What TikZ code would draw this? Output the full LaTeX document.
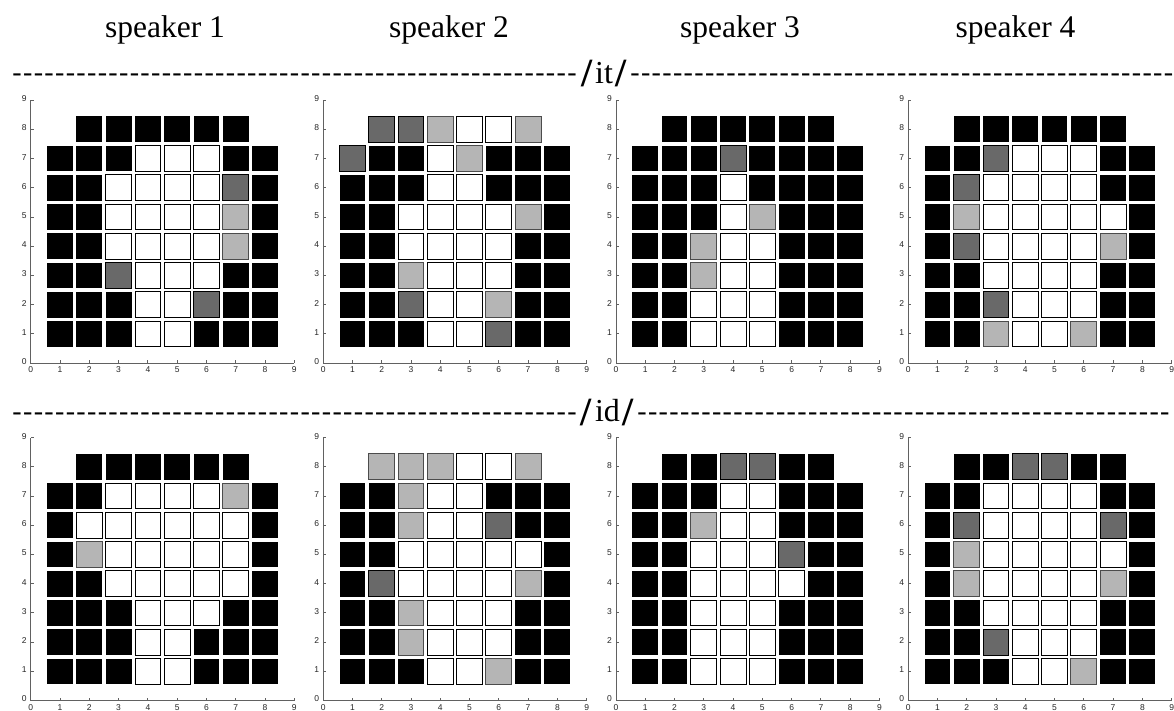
\documentclass[tikz,border=0pt]{standalone}
\usepackage{fontspec}
\newfontfamily\tnr{Liberation Serif}
\newfontfamily\hlv{Liberation Sans}
\definecolor{axisgray}{gray}{0.38}
\definecolor{midgray}{gray}{0.41}
\definecolor{lightgray}{gray}{0.71}
\newcommand{\hy}{\hbox to 10.67pt{\hss\fontsize{28}{28}\selectfont-\hss}}
\newcommand{\hten}{\hy\hy\hy\hy\hy\hy\hy\hy\hy\hy}
\tikzset{
  x=1pt,y=-1pt,
  cellk/.style={fill=black},
  cellw/.style={fill=white,draw=black,line width=0.9pt},
  celld/.style={fill=midgray,draw=black,line width=0.9pt},
  celll/.style={fill=lightgray,draw=black!70,line width=0.9pt},
  celln/.style={},
  axisline/.style={draw=axisgray,line width=0.9pt},
  ticklabel/.style={font=\hlv\fontsize{8.5}{9}\selectfont,text=black!85,inner sep=0pt},
  title/.style={font=\tnr\fontsize{31.5}{34}\selectfont,anchor=base,inner sep=0pt},
  dashes/.style={font=\tnr\fontsize{32}{34}\selectfont,anchor=base,inner sep=0pt},
}
\newcommand{\slsh}{\raisebox{-3.5pt}{\bfseries\fontsize{40}{40}\selectfont/}}
\newcommand{\panel}[3]{%
  \draw[axisline] (#1,#2-262.5) -- (#1,#2) -- (#1+263.5,#2);
  \foreach \k in {0,...,9}{
    \pgfmathsetmacro{\tx}{#1+29.27*\k}
    \pgfmathsetmacro{\ty}{#2-29.2*\k}
    \draw[axisline] (\tx,#2) -- (\tx,#2-3);
    \draw[axisline] (#1,\ty) -- (#1+3,\ty);
    \node[ticklabel] at (\tx,#2+7) {\k};
    \node[ticklabel] at (#1-6.5,\ty-1.5) {\k};
  }
  \foreach \rowcells [count=\r] in {#3}{
    \foreach \c [count=\i] in \rowcells {
      \pgfmathsetmacro{\cx}{#1+29.27*\i}
      \pgfmathsetmacro{\cy}{#2-29.24*(9-\r)+0.2}
      \path[cell\c] (\cx-12.9,\cy-12.9) rectangle (\cx+12.9,\cy+12.9);
    }
  }
}
\begin{document}
\begin{tikzpicture}
\useasboundingbox (0,0) rectangle (1174,711);
\clip (0,0) rectangle (1174,711);
\fill[white] (0,0) rectangle (1174,711);
\node[title] (s1) at (165,38) {speaker 1};
\node[title] (s2) at (449,38) {speaker 2};
\node[title] (s3) at (740,38) {speaker 3};
\node[title] (s4) at (1015.5,38) {speaker 4};
% /it/ row
\node[dashes,anchor=base east] (itl) at (577.5,81.9) {\hten\hten\hten\hten\hten\hy\hy\hy};
\node[dashes,anchor=base west] (itr) at (629.5,81.9) {\hten\hten\hten\hten\hten\hy};
\node[dashes] (it) at (604,83.3) {\slsh\kern3pt it\kern3pt\slsh};
% /id/ row
\node[dashes,anchor=base east] (idl) at (577.5,420.4) {\hten\hten\hten\hten\hten\hy\hy\hy};
\node[dashes,anchor=base west] (idr) at (636.5,420.4) {\hten\hten\hten\hten\hten};
\node[dashes] (id) at (607.5,421.5) {\slsh\kern3pt id\kern3pt\slsh};
% upper panels
\panel{30.8}{363}{{n,k,k,k,k,k,k,n},{k,k,k,w,w,w,k,k},{k,k,w,w,w,w,d,k},{k,k,w,w,w,w,l,k},{k,k,w,w,w,w,l,k},{k,k,d,w,w,w,k,k},{k,k,k,w,w,d,k,k},{k,k,k,w,w,k,k,k}}
\panel{323.2}{363}{{n,d,d,l,w,w,l,n},{d,k,k,w,l,k,k,k},{k,k,k,w,w,k,k,k},{k,k,w,w,w,w,l,k},{k,k,w,w,w,w,k,k},{k,k,l,w,w,w,k,k},{k,k,d,w,w,l,k,k},{k,k,k,w,w,d,k,k}}
\panel{616}{363}{{n,k,k,k,k,k,k,n},{k,k,k,d,k,k,k,k},{k,k,k,w,k,k,k,k},{k,k,k,w,l,k,k,k},{k,k,l,w,w,k,k,k},{k,k,l,w,w,k,k,k},{k,k,w,w,w,k,k,k},{k,k,w,w,w,k,k,k}}
\panel{908.2}{363}{{n,k,k,k,k,k,k,n},{k,k,d,w,w,w,k,k},{k,d,w,w,w,w,k,k},{k,l,w,w,w,w,w,k},{k,d,w,w,w,w,l,k},{k,k,w,w,w,w,k,k},{k,k,d,w,w,w,k,k},{k,k,l,w,w,l,k,k}}
% lower panels
\panel{30.8}{700.5}{{n,k,k,k,k,k,k,n},{k,k,w,w,w,w,l,k},{k,w,w,w,w,w,w,k},{k,l,w,w,w,w,w,k},{k,k,w,w,w,w,w,k},{k,k,k,w,w,w,k,k},{k,k,k,w,w,k,k,k},{k,k,k,w,w,k,k,k}}
\panel{323.2}{700.5}{{n,l,l,l,w,w,l,n},{k,k,l,w,w,k,k,k},{k,k,l,w,w,d,k,k},{k,k,w,w,w,w,w,k},{k,d,w,w,w,w,l,k},{k,k,l,w,w,w,k,k},{k,k,l,w,w,w,k,k},{k,k,k,w,w,l,k,k}}
\panel{616}{700.5}{{n,k,k,d,d,k,k,n},{k,k,k,w,w,k,k,k},{k,k,l,w,w,k,k,k},{k,k,w,w,w,d,k,k},{k,k,w,w,w,w,k,k},{k,k,w,w,w,k,k,k},{k,k,w,w,w,k,k,k},{k,k,w,w,w,k,k,k}}
\panel{908.2}{700.5}{{n,k,k,d,d,k,k,n},{k,k,w,w,w,w,k,k},{k,d,w,w,w,w,d,k},{k,l,w,w,w,w,w,k},{k,l,w,w,w,w,l,k},{k,k,w,w,w,w,k,k},{k,k,d,w,w,w,k,k},{k,k,k,w,w,l,k,k}}
\end{tikzpicture}
\end{document}
